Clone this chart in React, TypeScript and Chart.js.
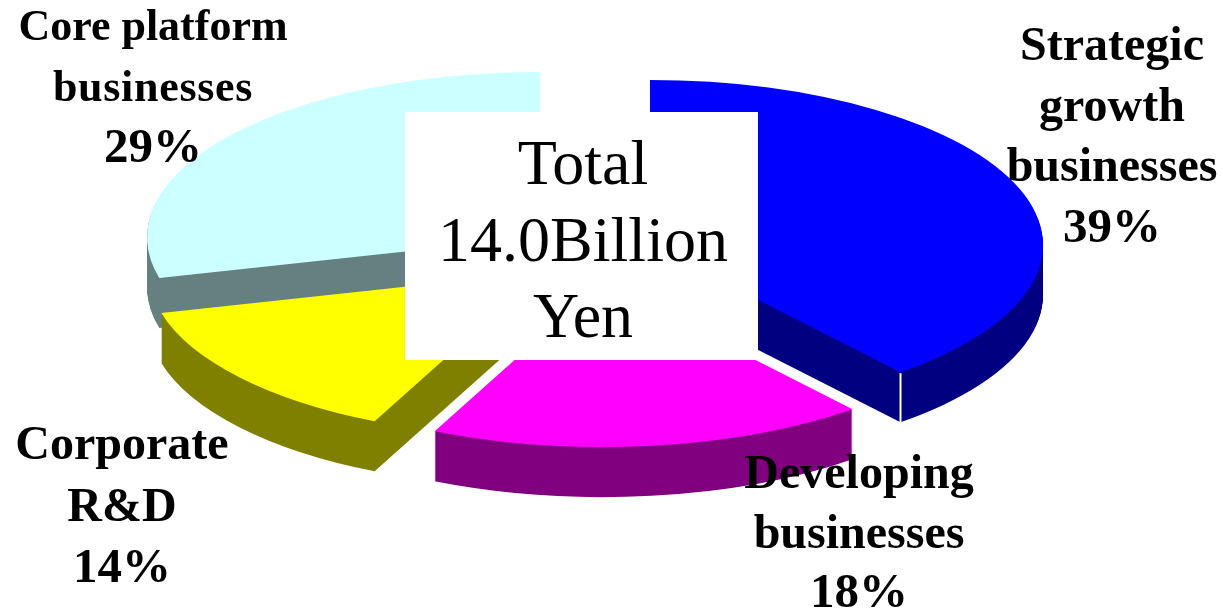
import React, { useEffect, useRef } from "react";
import { Chart, registerables } from "chart.js";

Chart.register(...registerables);

const categories = ["Strategic growth businesses", "Developing businesses", "Corporate R&D", "Core platform businesses"];
const shares = [39, 18, 14, 29];
const topColors = ["#0000ff", "#ff00ff", "#ffff00", "#ccffff"];
const wallColors = ["#000080", "#800080", "#808000", "#668080"];
const totalLines = ["Total", "14.0Billion", "Yen"];

const labelBlocks = [
  { lines: ["Strategic", "growth", "businesses", "39%"], x: 1112, y: 60, step: 60.7, sizes: [48, 48, 48, 49], spacing: [0, 0, 0, 0] },
  { lines: ["Developing", "businesses", "18%"], x: 859, y: 488, step: 59.5, sizes: [48, 48, 49], spacing: [0, 0, 0] },
  { lines: ["Corporate", "R&D", "14%"], x: 122, y: 459, step: 61.5, sizes: [48, 48, 49], spacing: [0, 0, 0] },
  { lines: ["Core platform", "businesses", "29%"], x: 153, y: 40, step: 61, sizes: [44, 44, 49], spacing: [0, 0.7, 0] },
];

const CX = 603;
const CY = 250;
const SQUASH = 0.42;
const DEPTH = 50;
const SLICE_SHIFT = [[47, -5], [-1, 32], [-61, 22], [-63, -13]];
const DRAW_ORDER = [3, 2, 0, 1];

const pie3d = {
  id: "pie3d",
  beforeDatasetsDraw(chart: any) {
    const { ctx } = chart;
    const arcs = chart.getDatasetMeta(0).data;
    const place = (el: any, i: number, dy: number) => {
      ctx.translate(CX + SLICE_SHIFT[i][0], CY + SLICE_SHIFT[i][1] + dy);
      ctx.scale(1, SQUASH);
      ctx.translate(-el.x, -el.y);
    };
    for (const i of DRAW_ORDER) {
      const el = arcs[i];
      const base = el.options;
      el.options = { ...base, backgroundColor: wallColors[i], borderColor: wallColors[i], borderWidth: 0 };
      for (let d = DEPTH; d >= 1; d--) {
        ctx.save();
        place(el, i, d);
        el.draw(ctx);
        ctx.restore();
      }
      el.options = base;
      ctx.save();
      place(el, i, 0);
      el.draw(ctx);
      ctx.restore();
      if (i === 0) {
        const tx = CX + SLICE_SHIFT[i][0] + Math.cos(el.endAngle) * el.outerRadius;
        const ty = CY + SLICE_SHIFT[i][1] + Math.sin(el.endAngle) * el.outerRadius * SQUASH;
        ctx.save();
        ctx.strokeStyle = "#ffffff";
        ctx.lineWidth = 2;
        ctx.beginPath();
        ctx.moveTo(tx, ty + 1);
        ctx.lineTo(tx, ty + DEPTH);
        ctx.stroke();
        ctx.restore();
      }
    }
    return false;
  },
  afterDraw(chart: any) {
    const { ctx } = chart;
    ctx.save();
    ctx.fillStyle = "#ffffff";
    ctx.fillRect(405, 112, 353, 248);
    ctx.fillStyle = "#000000";
    ctx.textAlign = "center";
    ctx.textBaseline = "alphabetic";
    ctx.font = '64px "Liberation Serif"';
    totalLines.forEach((t, i) => ctx.fillText(t, 583, 184 + i * 76.5));
    for (const b of labelBlocks) {
      b.lines.forEach((t, i) => {
        ctx.font = `bold ${b.sizes[i]}px "Liberation Serif"`;
        ctx.letterSpacing = `${b.spacing[i]}px`;
        ctx.fillText(t, b.x, b.y + i * b.step);
      });
    }
    ctx.restore();
  },
};

export default function App() {
  const ref = useRef<HTMLCanvasElement>(null);
  useEffect(() => {
    document.body.style.margin = "0";
    document.body.style.background = "#ffffff";
    const chart = new Chart(ref.current as HTMLCanvasElement, {
      type: "pie",
      data: {
        labels: categories,
        datasets: [
          {
            data: shares,
            backgroundColor: topColors,
            borderWidth: 0,
            clip: false,
          } as any,
        ],
      },
      options: {
        animation: false,
        responsive: false,
        radius: 393,
        plugins: { legend: { display: false }, tooltip: { enabled: false } },
      } as any,
      plugins: [pie3d as any],
    });
    return () => chart.destroy();
  }, []);
  return <canvas ref={ref} width={1223} height={614} style={{ display: "block" }} />;
}
